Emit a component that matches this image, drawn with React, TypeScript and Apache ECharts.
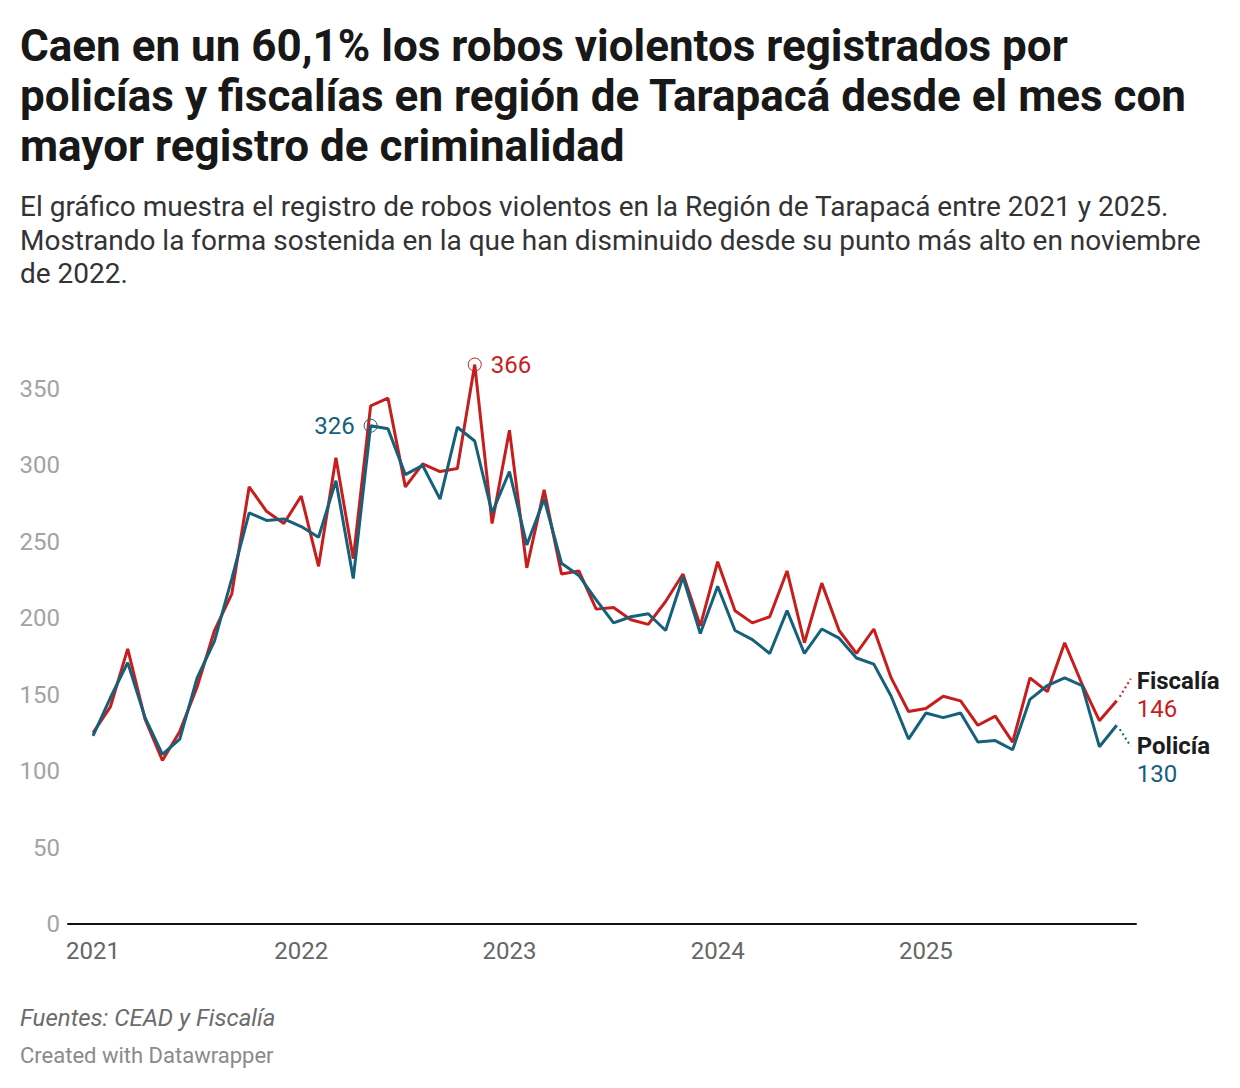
import React, { useEffect, useRef } from "react";
import * as echarts from "echarts";

const years = ["2021", "2022", "2023", "2024", "2025"];
const yTicks = [0, 50, 100, 150, 200, 250, 300, 350];

// Monthly values, Jan 2021 .. Dec 2025
const fiscalia = [
  125, 142, 180, 134, 107, 126, 155, 192, 216, 286, 270, 262,
  280, 234, 305, 239, 339, 344, 286, 301, 296, 298, 366, 262,
  323, 233, 284, 229, 231, 206, 207, 199, 196, 211, 229, 195,
  237, 205, 197, 201, 231, 184, 223, 192, 177, 193, 161, 139,
  141, 149, 146, 130, 136, 119, 161, 152, 184, 157, 133, 146,
];
const policia = [
  123, 148, 171, 135, 111, 121, 161, 185, 226, 269, 264, 265,
  260, 253, 290, 226, 326, 324, 294, 300, 278, 325, 316, 269,
  296, 248, 278, 236, 228, 212, 197, 201, 203, 192, 227, 190,
  221, 192, 186, 177, 205, 177, 193, 187, 174, 170, 149, 121,
  138, 135, 138, 119, 120, 114, 147, 156, 161, 156, 116, 130,
];

const RED = "#c71e1d";
const BLUE = "#15607a";
const FONT = "Roboto";

const titleText =
  "Caen en un 60,1% los robos violentos registrados por\npolicías y fiscalías en región de Tarapacá desde el mes con\nmayor registro de criminalidad";
const subtitleText =
  "El gráfico muestra el registro de robos violentos en la Región de Tarapacá entre 2021 y 2025.\nMostrando la forma sostenida en la que han disminuido desde su punto más alto en noviembre\nde 2022.";

export default function App() {
  const ref = useRef<HTMLDivElement>(null);
  useEffect(() => {
    if (!ref.current) return;
    const chart = echarts.init(ref.current, null, { renderer: "svg" });
    const toPairs = (arr: number[]) => arr.map((v, i) => [i, v]);
    const peakMark = (color: string, pos: string) => ({
      symbol: "circle",
      symbolSize: 13,
      itemStyle: { color: "rgba(0,0,0,0)", borderColor: color, borderWidth: 1 },
      label: {
        show: true,
        position: pos,
        distance: 9,
        color,
        fontSize: 24,
        fontFamily: FONT,
        formatter: (p: any) => String(p.value),
      },
      data: [{ type: "max" }],
    });
    const endLabel = (name: string, color: string, dy: number) => ({
      show: true,
      distance: 20,
      offset: [0, dy],
      align: "left",
      formatter: (p: any) => `{n|${name}}\n{v|${p.value[1]}}`,
      rich: {
        n: { fontSize: 24, fontWeight: "bold", color: "#1d1d1d", fontFamily: FONT, lineHeight: 28 },
        v: { fontSize: 24, color, fontFamily: FONT, lineHeight: 28 },
      },
    });
    chart.setOption({
      animation: false,
      textStyle: { fontFamily: FONT },
      grid: { left: 68, right: 104, top: 350.8, bottom: 164, containLabel: false },
      xAxis: {
        type: "value",
        min: -1.441,
        max: 60.11,
        splitLine: { show: false },
        axisTick: { show: false },
        axisLine: { show: true, lineStyle: { color: "#111", width: 2 } },
        axisLabel: {
          customValues: years.map((_, i) => i * 12),
          formatter: (v: number) => years[Math.round(v / 12)],
          color: "#666",
          fontSize: 24,
          fontFamily: FONT,
          margin: 15,
        },
      },
      yAxis: {
        type: "value",
        min: 0,
        max: 375,
        splitLine: { show: false },
        axisTick: { show: false },
        axisLine: { show: false },
        axisLabel: {
          customValues: yTicks,
          color: "#a3a3a3",
          fontSize: 24,
          fontFamily: FONT,
          margin: 8,
        },
      },
      series: [
        {
          name: "Fiscalía",
          type: "line",
          data: toPairs(fiscalia),
          showSymbol: false,
          clip: false,
          lineStyle: { color: RED, width: 3 },
          itemStyle: { color: RED },
          markPoint: peakMark(RED, "right"),
          endLabel: endLabel("Fiscalía", RED, -6),
        },
        {
          name: "Policía",
          type: "line",
          data: toPairs(policia),
          showSymbol: false,
          clip: false,
          lineStyle: { color: BLUE, width: 3 },
          itemStyle: { color: BLUE },
          markPoint: peakMark(BLUE, "left"),
          endLabel: endLabel("Policía", BLUE, 35),
        },
      ],
    });
    const last = fiscalia.length - 1;
    const pr = chart.convertToPixel({ gridIndex: 0 }, [last, fiscalia[last]]) as number[];
    const pb = chart.convertToPixel({ gridIndex: 0 }, [last, policia[last]]) as number[];
    chart.setOption({
      graphic: [
        {
          type: "text",
          left: 20,
          top: 21,
          style: {
            text: titleText,
            fontSize: 44,
            fontWeight: "bold",
            fontFamily: FONT,
            fill: "#181818",
            lineHeight: 50,
          },
        },
        {
          type: "text",
          left: 20,
          top: 190,
          style: {
            text: subtitleText,
            fontSize: 28,
            fontFamily: FONT,
            fill: "#333",
            lineHeight: 33.5,
          },
        },
        {
          type: "text",
          left: 20,
          top: 1004,
          style: {
            text: "Fuentes: CEAD y Fiscalía",
            fontSize: 24,
            fontStyle: "italic",
            fontFamily: FONT,
            fill: "#6b6b6b",
            lineHeight: 28,
          },
        },
        {
          type: "text",
          left: 20,
          top: 1042,
          style: {
            text: "Created with Datawrapper",
            fontSize: 22,
            fontFamily: FONT,
            fill: "#8a8a8a",
            lineHeight: 26,
          },
        },
        {
          type: "line",
          shape: { x1: pr[0] + 3, y1: pr[1] - 4, x2: pr[0] + 14, y2: pr[1] - 22 },
          style: { stroke: RED, lineWidth: 2, lineDash: [2, 3] },
        },
        {
          type: "line",
          shape: { x1: pb[0] + 3, y1: pb[1] + 4, x2: pb[0] + 14, y2: pb[1] + 21 },
          style: { stroke: BLUE, lineWidth: 2, lineDash: [2, 3] },
        },
      ],
    });
    return () => chart.dispose();
  }, []);
  return (
    <div
      ref={ref}
      style={{ position: "absolute", left: 0, top: 0, width: 1240, height: 1088, background: "#fff" }}
    />
  );
}
